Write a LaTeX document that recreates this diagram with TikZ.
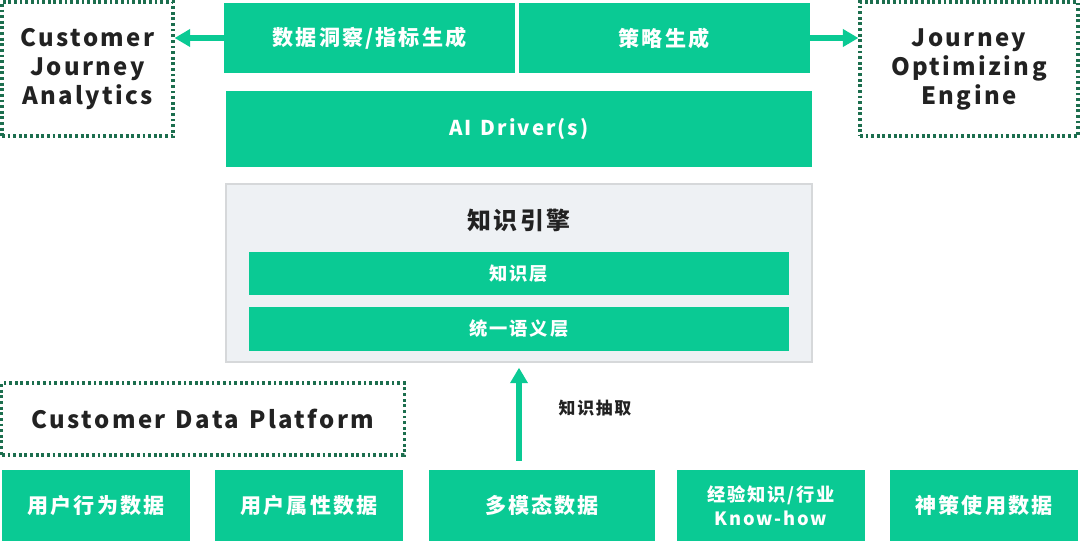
\documentclass[tikz,border=0pt]{standalone}
\usepackage{fontspec}
\setmainfont{Noto Sans CJK SC}[LetterSpace=10,WordSpace=1.3]
\usetikzlibrary{positioning,arrows.meta}

\definecolor{mint}{RGB}{10,202,148}
\definecolor{dotgreen}{RGB}{28,110,78}
\definecolor{enginebg}{RGB}{238,241,244}
\definecolor{engineline}{RGB}{214,216,218}
\definecolor{ink}{RGB}{34,34,34}

\begin{document}
\begin{tikzpicture}[x=0.025cm,y=-0.025cm,
    layer/.style={rectangle,fill=mint,text=white,inner sep=0pt,align=center,
		font=\bfseries\fontsize{15}{18}\selectfont},
    sublayer/.style={layer,minimum width=13.5cm,minimum height=1.08cm,
		font=\bfseries\fontsize{13}{16}\selectfont},
    source/.style={layer,minimum height=1.78cm,minimum width=4.7cm},
% Dotted outside systems
    outer/.style={rectangle,draw=dotgreen,line width=2.2pt,dash pattern=on 2pt off 2pt,
		text=ink,inner sep=0pt,align=center,font=\bfseries\fontsize{17}{20.6}\selectfont},
    flow/.style={draw=mint,line width=3.6pt,-{Triangle[length=11pt,width=12pt]}}
    ]
   \useasboundingbox (0,0) rectangle (1080,541);
%%% Top row
   \node [layer,minimum width=7.275cm,minimum height=1.75cm] (insight) at (369.5,38) {数据洞察/指标生成};
   \node [layer,minimum width=7.275cm,minimum height=1.75cm] (strategy) [right=0.075cm of insight] {策略生成};
   \node [outer,minimum width=4.275cm,minimum height=3.35cm] (cja) at (87.5,69) {Customer\\Journey\\Analytics};
   \node [outer,minimum width=5.45cm,minimum height=3.35cm] (joe) at (969,69) {Journey\\Optimizing\\Engine};
   \draw [flow] (insight.west) -- (insight.west -| cja.east);
   \draw [flow] (strategy.east) -- (strategy.east -| joe.west);
   \node [layer,minimum width=14.65cm,minimum height=1.9cm,font=\bfseries\fontsize{14.5}{17}\selectfont] (aidriver) at (519,129) {AI Driver(s)};

%%% Knowledge engine
   \node [rectangle,draw=engineline,line width=1.2pt,fill=enginebg,minimum width=14.65cm,
		minimum height=4.45cm] (engine) at (519,273) {};
   \node [text=ink,font=\bfseries\fontsize{17}{20}\selectfont] (enginetitle) at (519,220) {知识引擎};
   \node [sublayer] (klayer) at (519,273.5) {知识层};
   \node [sublayer] (slayer) at (519,329) {统一语义层};

%%% Data sources
   \node [outer,minimum width=10.05cm,minimum height=1.8cm] (cdp) at (203,419) {Customer Data Platform};
   \node [source] (d1) at (96,505.5) {用户行为数据};
   \node [source] (d2) at (309,505.5) {用户属性数据};
   \node [source,minimum width=5.65cm] (d3) at (542,505.5) {多模态数据};
   \node [source,font=\bfseries\fontsize{13}{17}\selectfont] (d4) at (771,505.5) {经验知识/行业\\Know-how};
   \node [source] (d5) at (984,505.5) {神策使用数据};
   \draw [flow,shorten <=0.22cm,shorten >=0.12cm] (d3.north -| engine.south) -- (engine.south);
   \node [text=ink,font=\bfseries\fontsize{12}{14}\selectfont] (extract) at (595,408) {知识抽取};
\end{tikzpicture}
\end{document}
